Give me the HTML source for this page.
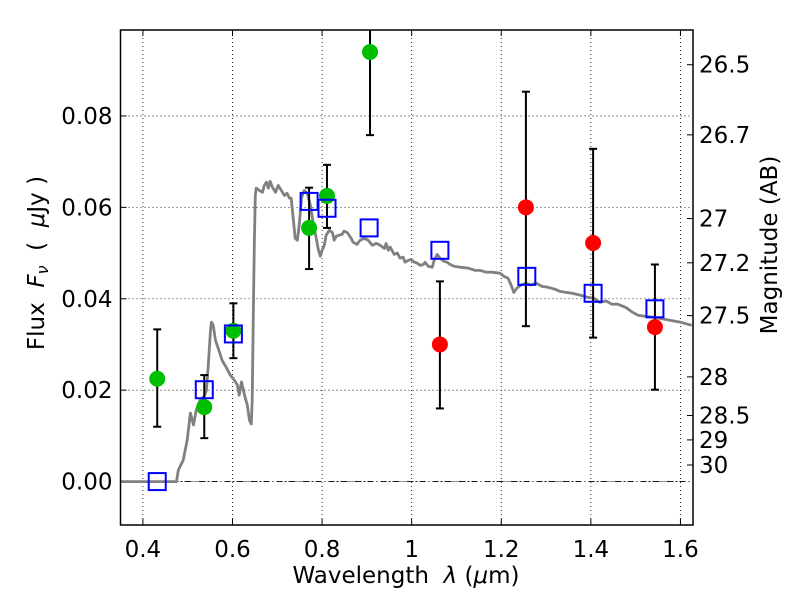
<!DOCTYPE html>
<html><head><meta charset="utf-8"><style>
html,body{margin:0;padding:0;background:#fff;}
svg text{font-family:"DejaVu Sans","Liberation Sans",sans-serif;fill:#000;white-space:pre;}
</style></head><body>
<svg id="chart" width="800" height="600" xmlns="http://www.w3.org/2000/svg"></svg>
<script>
const xTicks=[0.4,0.6,0.8,1.0,1.2,1.4,1.6];
const xTickLabels=["0.4","0.6","0.8","1","1.2","1.4","1.6"];
const yTicks=[0.00,0.02,0.04,0.06,0.08];
const yTickLabels=["0.00","0.02","0.04","0.06","0.08"];
const magTicks=[26.5,26.7,27,27.2,27.5,28,28.5,29,30];
const magTickLabels=["26.5","26.7","27","27.2","27.5","28","28.5","29","30"];
const greenWave=[0.432,0.537,0.602,0.771,0.811,0.907];
const greenFlux=[0.0225,0.0163,0.0330,0.0555,0.0625,0.0940];
const greenErrHi=[0.0333,0.0233,0.0390,0.0643,0.0693,0.0995];
const greenErrLo=[0.0120,0.0095,0.0270,0.0465,0.0555,0.0758];
const redWave=[1.063,1.255,1.405,1.543];
const redFlux=[0.0300,0.0600,0.0522,0.0338];
const redErrHi=[0.0438,0.0853,0.0728,0.0475];
const redErrLo=[0.0160,0.0340,0.0315,0.0201];
const modelWave=[0.432,0.537,0.602,0.771,0.811,0.905,1.063,1.257,1.405,1.543];
const modelFlux=[0.0000,0.0201,0.0323,0.0613,0.0598,0.0555,0.0506,0.0449,0.0412,0.0378];
const specWave=[0.350,0.475,0.479,0.490,0.499,0.506,0.513,0.519,0.528,0.537,0.542,0.546,0.551,0.553,0.557,0.562,0.571,0.577,0.586,0.595,0.604,0.611,0.615,0.620,0.626,0.633,0.638,0.642,0.644,0.647,0.649,0.651,0.653,0.660,0.667,0.671,0.676,0.680,0.684,0.689,0.696,0.702,0.709,0.716,0.722,0.727,0.731,0.736,0.740,0.745,0.749,0.754,0.760,0.767,0.774,0.780,0.787,0.791,0.796,0.800,0.805,0.809,0.816,0.823,0.827,0.832,0.838,0.845,0.849,0.856,0.865,0.869,0.878,0.885,0.894,0.903,0.912,0.921,0.930,0.939,0.943,0.948,0.952,0.961,0.968,0.974,0.981,0.985,0.992,0.999,1.006,1.012,1.019,1.026,1.030,1.037,1.046,1.050,1.057,1.063,1.072,1.079,1.086,1.095,1.108,1.126,1.142,1.153,1.166,1.179,1.197,1.206,1.215,1.222,1.228,1.235,1.244,1.255,1.266,1.278,1.291,1.304,1.320,1.331,1.344,1.358,1.376,1.393,1.407,1.420,1.434,1.447,1.460,1.478,1.492,1.505,1.518,1.536,1.554,1.576,1.599,1.625];
const specFlux=[0.0000,0.0000,0.0025,0.0047,0.0091,0.0150,0.0124,0.0156,0.0178,0.0187,0.0200,0.0255,0.0331,0.0349,0.0342,0.0309,0.0283,0.0265,0.0250,0.0233,0.0222,0.0211,0.0189,0.0218,0.0193,0.0167,0.0134,0.0126,0.0178,0.0397,0.0528,0.0626,0.0642,0.0637,0.0633,0.0648,0.0655,0.0642,0.0657,0.0644,0.0633,0.0648,0.0637,0.0626,0.0631,0.0620,0.0620,0.0572,0.0532,0.0528,0.0561,0.0620,0.0637,0.0631,0.0604,0.0567,0.0532,0.0510,0.0493,0.0506,0.0517,0.0539,0.0550,0.0545,0.0528,0.0537,0.0539,0.0541,0.0548,0.0545,0.0532,0.0524,0.0519,0.0528,0.0532,0.0528,0.0517,0.0521,0.0517,0.0510,0.0521,0.0506,0.0513,0.0497,0.0500,0.0489,0.0491,0.0480,0.0484,0.0486,0.0480,0.0478,0.0473,0.0475,0.0480,0.0471,0.0469,0.0484,0.0497,0.0489,0.0482,0.0480,0.0475,0.0471,0.0469,0.0467,0.0462,0.0462,0.0458,0.0458,0.0456,0.0449,0.0445,0.0430,0.0414,0.0423,0.0430,0.0434,0.0430,0.0434,0.0427,0.0425,0.0421,0.0416,0.0414,0.0412,0.0408,0.0403,0.0401,0.0392,0.0395,0.0388,0.0388,0.0381,0.0371,0.0364,0.0362,0.0360,0.0357,0.0353,0.0349,0.0342];

const L=120.5,R=693,T=30,B=525;
const X0=0.35,X1=1.628,Y0=-0.0095,Y1=0.0988;
const FS=23;
const sx=v=>L+(v-X0)/(X1-X0)*(R-L);
const sy=v=>B-(v-Y0)/(Y1-Y0)*(B-T);
const magToFlux=m=>Math.pow(10,(23.9-m)/2.5);
const svg=document.getElementById('chart');
const NS="http://www.w3.org/2000/svg";
function mk(tag,attrs,parent){const e=document.createElementNS(NS,tag);for(const k in attrs)e.setAttribute(k,attrs[k]);(parent||svg).appendChild(e);return e;}

const defs=mk('defs',{});
const cp=mk('clipPath',{id:'clip'},defs);
mk('rect',{x:L,y:T,width:R-L,height:B-T},cp);

xTicks.forEach((t,i)=>{
  const g=mk('line',{x1:sx(t),x2:sx(t),y1:T,y2:B,stroke:'#000','stroke-width':0.8,'stroke-dasharray':'1,3'});
  
  
  const tk=mk('line',{x1:sx(t),x2:sx(t),y1:B,y2:B-6,stroke:'#000'});
  
  
  mk('line',{x1:sx(t),x2:sx(t),y1:T,y2:T+6,stroke:'#000'});
  const tx=mk('text',{x:sx(t),y:B+32,'font-size':FS,'text-anchor':'middle'});
  tx.textContent=xTickLabels[i];
  
  
});
yTicks.forEach((t,i)=>{
  const g=mk('line',{x1:L,x2:R,y1:sy(t),y2:sy(t),stroke:'#000','stroke-width':0.8,'stroke-dasharray':'1,3'});
  
  
  const tk=mk('line',{x1:L,x2:L+6,y1:sy(t),y2:sy(t),stroke:'#000'});
  
  
  const tx=mk('text',{x:L-8,y:sy(t)+8,'font-size':FS,'text-anchor':'end'});
  tx.textContent=yTickLabels[i];
  
  
});
const zl=mk('line',{x1:L,x2:R,y1:sy(0),y2:sy(0),stroke:'#000','stroke-width':0.8,'stroke-dasharray':'6,3,1,3'});



magTicks.forEach((m,i)=>{
  const y=sy(magToFlux(m));
  const tk=mk('line',{x1:R,x2:R-6,y1:y,y2:y,stroke:'#000'});
  
  
  const tx=mk('text',{x:R+6,y:y+8,'font-size':FS});
  tx.textContent=magTickLabels[i];
  
  
});

const plot=mk('g',{'clip-path':'url(#clip)'});



const pts=specWave.map((w,i)=>sx(w).toFixed(1)+','+sy(specFlux[i]).toFixed(1)).join(' ');
const sp=mk('polyline',{points:pts,fill:'none',stroke:'#808080','stroke-width':2.8,'stroke-linejoin':'round'},plot);



function errs(ws,hi,lo,name){
  ws.forEach((w,i)=>{
    const x=sx(w);
    const g=mk('g',{stroke:'#000','stroke-width':2},plot);
    
    
    mk('line',{x1:x,x2:x,y1:sy(hi[i]),y2:sy(lo[i])},g);
    mk('line',{x1:x-4,x2:x+4,y1:sy(hi[i]),y2:sy(hi[i])},g);
    mk('line',{x1:x-4,x2:x+4,y1:sy(lo[i]),y2:sy(lo[i])},g);
  });
}
errs(greenWave,greenErrHi,greenErrLo,'detection-error-bar');
errs(redWave,redErrHi,redErrLo,'nir-error-bar');

greenWave.forEach((w,i)=>{
  const c=mk('circle',{cx:sx(w),cy:sy(greenFlux[i]),r:8,fill:'#00bf00'},plot);
  
  
});
redWave.forEach((w,i)=>{
  const c=mk('circle',{cx:sx(w),cy:sy(redFlux[i]),r:8,fill:'#ff0000'},plot);
  
  
});
modelWave.forEach((w,i)=>{
  const s=mk('rect',{x:sx(w)-8.5,y:sy(modelFlux[i])-8.5,width:17,height:17,fill:'none',stroke:'#0000ff','stroke-width':2},plot);
  
  
});

const fr=mk('rect',{x:L,y:T,width:R-L,height:B-T,fill:'none',stroke:'#000','stroke-width':1.5});



const xt=mk('text',{x:406,y:583,'font-size':FS,'text-anchor':'middle'});
xt.innerHTML='Wavelength  <tspan font-style="italic">λ</tspan> (<tspan font-style="italic">μ</tspan>m)';


const yt=mk('text',{x:0,y:0,'font-size':FS,'text-anchor':'middle',transform:'translate(44,263) rotate(-90)'});
yt.innerHTML='Flux  <tspan font-style="italic">F</tspan><tspan font-style="italic" font-size="16" dy="4">ν</tspan><tspan dy="-4">  (  </tspan><tspan font-style="italic">μ</tspan>Jy )';


const rt=mk('text',{x:0,y:0,'font-size':FS,'text-anchor':'middle',transform:'translate(777,245) rotate(-90)'});
rt.textContent='Magnitude (AB)';


</script>
</body></html>
